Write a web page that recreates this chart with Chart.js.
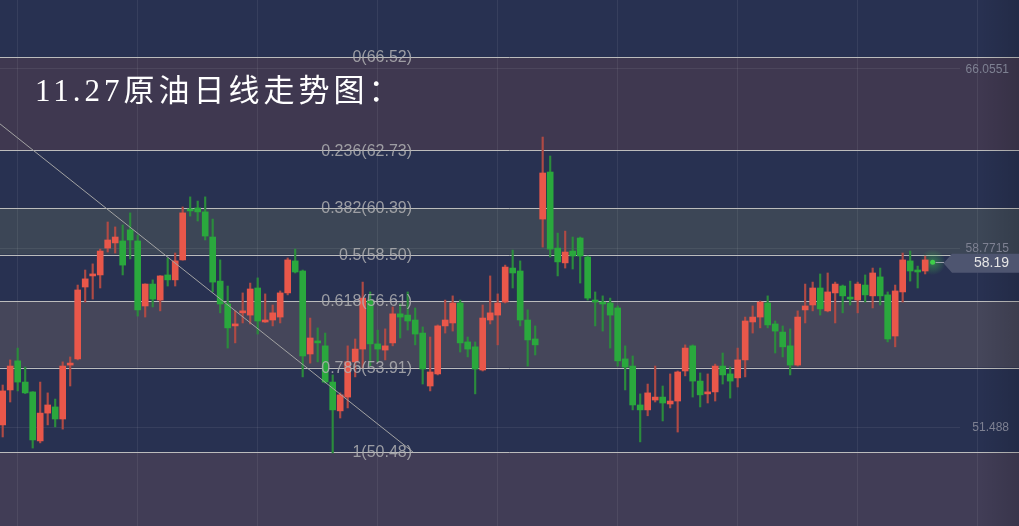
<!DOCTYPE html>
<html>
<head>
<meta charset="utf-8">
<script src="https://cdn.jsdelivr.net/npm/chart.js@4/dist/chart.umd.min.js"></script>
<style>
html,body{margin:0;padding:0;background:#283151;overflow:hidden;width:1019px;height:526px}
canvas{display:block}
</style>
</head>
<body>
<canvas id="c" width="1019" height="526"></canvas>
<script>
// ---------- DATA ----------
const titleText = '11.27原油日线走势图：';

const opens = [51.58,53.00,54.18,53.32,52.92,50.93,52.06,52.31,51.82,54.01,54.26,57.18,57.63,57.67,58.76,58.97,59.05,59.50,59.05,56.41,
57.30,56.65,57.67,57.47,58.28,60.35,60.39,60.23,59.21,57.42,56.49,55.60,56.13,56.04,57.14,55.76,55.84,55.96,56.94,58.24,
57.83,54.46,54.95,54.79,53.32,52.15,52.71,54.14,54.66,56.65,54.87,54.62,54.91,56.09,56.04,55.84,55.31,53.16,53.65,55.60,
55.72,56.53,54.95,54.75,53.81,55.84,56.04,56.57,57.95,57.83,55.84,55.07,59.94,61.85,58.76,58.16,58.64,59.17,58.40,56.65,
56.57,56.53,56.33,54.26,53.97,52.39,52.19,52.59,52.71,52.43,52.55,53.77,54.79,53.36,52.84,52.92,53.97,53.65,53.49,54.22,
55.76,55.96,56.53,55.68,55.35,54.79,54.01,56.25,56.45,57.14,56.21,56.94,57.22,56.77,56.65,57.26,56.82,57.59,56.86,55.19,
56.98,58.24,57.87,57.83];
const highs = [53.20,54.22,54.70,53.93,52.93,53.32,52.88,52.63,54.14,54.34,57.26,57.87,58.12,58.72,59.82,59.62,59.70,60.19,59.29,57.31,
57.47,57.64,58.36,58.56,60.43,60.84,60.67,60.84,59.94,58.28,57.22,56.21,56.94,57.34,57.55,56.90,56.45,57.02,58.36,58.72,
57.87,55.92,55.52,55.31,53.61,52.88,54.79,55.07,57.38,56.98,55.43,55.48,56.37,56.49,56.98,56.33,55.56,55.15,55.64,56.65,
56.82,56.65,55.15,54.95,56.45,57.63,56.90,58.07,58.68,58.24,56.25,55.60,63.27,62.50,59.37,59.45,59.21,59.21,58.44,56.98,
56.82,56.73,56.41,54.79,54.38,52.84,53.24,53.97,53.16,53.65,53.77,54.83,54.83,53.69,53.65,54.05,54.50,53.93,54.70,55.96,
56.41,56.61,56.82,55.80,55.60,55.48,56.21,57.30,57.38,57.71,57.75,57.38,57.26,57.42,57.38,57.67,57.95,57.95,56.98,57.26,
58.56,58.64,58.03,58.44];
const lows = [51.09,52.51,52.96,52.85,50.64,50.85,51.58,51.50,51.41,53.16,54.22,56.57,56.69,57.14,58.60,58.56,57.67,58.32,56.00,55.96,
56.37,56.21,57.22,57.22,58.27,60.06,59.86,59.09,56.98,56.13,54.70,54.91,55.72,55.68,55.27,55.74,55.60,55.72,56.86,57.75,
53.53,54.09,54.14,53.28,50.44,51.86,52.27,53.53,53.89,53.97,54.14,54.22,54.79,55.11,55.43,54.83,53.24,52.96,53.61,55.31,
55.39,54.54,54.34,52.84,53.77,55.68,54.83,56.53,57.14,55.60,53.97,54.42,58.80,58.40,57.63,57.95,57.91,57.34,56.65,55.60,
55.39,54.70,53.97,53.00,52.19,50.89,51.95,52.51,51.74,52.27,51.29,53.57,52.71,52.31,52.47,52.55,53.24,52.67,53.12,53.53,
55.31,55.52,55.52,54.50,54.34,53.61,53.97,55.72,56.21,56.04,56.17,55.72,56.13,56.45,56.13,56.57,56.33,56.45,54.95,54.75,
56.57,57.42,57.14,57.71];
const closes = [52.96,53.97,53.32,52.88,50.97,52.06,52.39,51.82,53.97,54.09,57.06,57.51,57.67,58.64,59.09,59.21,58.07,59.09,56.25,57.30,
56.69,57.63,57.47,58.24,60.19,60.27,60.23,59.25,57.38,56.49,55.52,55.68,56.17,57.10,55.80,55.84,56.13,56.94,58.28,57.79,
54.38,55.11,54.91,53.32,52.19,52.80,54.14,54.66,56.73,54.87,54.66,54.79,56.09,55.96,55.80,55.27,53.85,53.73,55.60,55.84,
56.53,54.91,54.66,53.85,55.92,56.13,56.53,57.99,57.75,55.84,55.03,54.83,61.81,58.72,58.20,58.60,58.44,58.44,56.73,56.57,
56.49,56.04,54.18,53.93,52.39,52.19,52.88,52.71,52.47,52.55,53.73,54.70,53.36,52.80,52.88,53.97,53.61,53.36,54.22,55.80,
55.96,56.57,55.64,55.39,54.75,54.01,55.96,56.41,57.14,56.29,56.98,57.30,56.82,56.69,57.30,56.86,57.75,56.82,55.07,57.02,
58.28,57.83,57.79,58.28];
const lastIndex = 124;
const lastPrice = 58.19;

const fibRatios = ['0','0.236','0.382','0.5','0.618','0.786','1'];
const fibPrices = [66.52,62.73,60.39,58.50,56.61,53.91,50.48];
const axisTicks = [66.0551,58.7715,51.488];
const gridDays = [1.95,17.95,33.95,49.95,65.95,81.95,97.95,113.95,129.95];
const trendPoints = [{x:-2, y:64.20},{x:54.7, y:50.48}];

// ---------- STYLE ----------
const C = {
  navy:'#283151', bandTop:'#3f3850', bandMid:'#3c4656', bandLow:'#45465a', bandBottom:'#413d56',
  up:'#e9574a', down:'#2aa83d', upWick:'#b04a44', downWick:'#2b8c3c',
  fibLine:'#bcbcbc', fibText:'rgba(175,175,178,0.85)', grid:'rgba(255,255,255,0.07)',
  axisText:'#7e8192', tag:'#4e5570', tagText:'#e6e6e6', trend:'#a3a3a3'
};

const isUp = opens.map((o,i)=>closes[i] >= o);

const decor = {
  id:'decor',
  beforeDatasetsDraw(chart){
    const {ctx, width:W, height:H, scales:{x,y}} = chart;
    ctx.save();
    ctx.fillStyle = C.navy; ctx.fillRect(0,0,W,H);
    const py = fibPrices.map(p=>y.getPixelForValue(p));
    ctx.fillStyle = C.bandTop;    ctx.fillRect(0,py[0],W,py[1]-py[0]);
    ctx.fillStyle = C.bandMid;    ctx.fillRect(0,py[2],W,py[3]-py[2]);
    ctx.fillStyle = C.bandLow;    ctx.fillRect(0,py[4],W,py[5]-py[4]);
    ctx.fillStyle = C.bandBottom; ctx.fillRect(0,py[6],W,H-py[6]);
    // grid
    ctx.strokeStyle = C.grid; ctx.lineWidth = 1;
    gridDays.forEach(d=>{
      const px = Math.round(x.getPixelForValue(d))+0.5;
      ctx.beginPath(); ctx.moveTo(px,0); ctx.lineTo(px,H); ctx.stroke();
    });
    axisTicks.forEach(v=>{
      const yy = Math.round(y.getPixelForValue(v))+0.5;
      ctx.beginPath(); ctx.moveTo(0,yy); ctx.lineTo(960,yy); ctx.stroke();
    });
    // fib lines
    ctx.strokeStyle = C.fibLine; ctx.lineWidth = 1;
    py.forEach(p=>{
      const yy = Math.round(p)+0.5;
      ctx.beginPath(); ctx.moveTo(0,yy); ctx.lineTo(W,yy); ctx.stroke();
    });
    // glow for current price
    const gx = x.getPixelForValue(lastIndex), gy = y.getPixelForValue(lastPrice);
    const g = ctx.createRadialGradient(gx,gy,0,gx,gy,13);
    g.addColorStop(0,'rgba(70,210,80,0.45)'); g.addColorStop(1,'rgba(70,210,80,0)');
    ctx.fillStyle = g; ctx.beginPath(); ctx.arc(gx,gy,13,0,Math.PI*2); ctx.fill();
    ctx.restore();
  },
  afterDatasetsDraw(chart){
    const {ctx, width:W, height:H, scales:{x,y}} = chart;
    ctx.save();
    // fib labels
    ctx.font = '16px "Liberation Sans", Arial, sans-serif';
    ctx.fillStyle = C.fibText; ctx.textAlign = 'right'; ctx.textBaseline = 'middle';
    fibPrices.forEach((p,i)=>{
      ctx.fillText(fibRatios[i]+'('+p.toFixed(2)+')', 412, y.getPixelForValue(p)+1);
    });
    // right shade
    const sh = ctx.createLinearGradient(980,0,W,0);
    sh.addColorStop(0,'rgba(0,0,0,0)'); sh.addColorStop(1,'rgba(0,0,0,0.13)');
    ctx.fillStyle = sh; ctx.fillRect(980,0,W-980,H);
    // right axis labels
    ctx.font = '12px "Liberation Sans", Arial, sans-serif';
    ctx.fillStyle = C.axisText; ctx.textAlign = 'right';
    axisTicks.forEach(v=>{ ctx.fillText(String(v), 1009, y.getPixelForValue(v)+1); });
    // price tag
    const ty = y.getPixelForValue(lastPrice)+1;
    const dx = x.getPixelForValue(lastIndex);
    ctx.strokeStyle = '#9aa0aa'; ctx.lineWidth = 1;
    ctx.beginPath(); ctx.moveTo(dx+3,Math.round(ty)-0.5); ctx.lineTo(944,Math.round(ty)-0.5); ctx.stroke();
    ctx.fillStyle = C.tag;
    ctx.beginPath();
    ctx.moveTo(943.5,ty); ctx.lineTo(952,ty-9.5); ctx.lineTo(W,ty-9.5); ctx.lineTo(W,ty+9.5); ctx.lineTo(952,ty+9.5); ctx.closePath();
    ctx.fill();
    ctx.font = '14px "Liberation Sans", Arial, sans-serif';
    ctx.fillStyle = C.tagText; ctx.textAlign = 'right';
    ctx.fillText(lastPrice.toFixed(2), 1009, ty+0.5);
    // title
    ctx.font = '31px "Liberation Serif", "Noto Sans CJK SC", serif';
    ctx.letterSpacing = '4px';
    ctx.fillStyle = '#ffffff'; ctx.textAlign = 'left'; ctx.textBaseline = 'middle';
    ctx.fillText(titleText, 35, 93);
    ctx.restore();
  }
};

new Chart(document.getElementById('c'), {
  type:'bar',
  data:{
    datasets:[
      { type:'line', label:'trend', data:trendPoints, borderColor:C.trend, borderWidth:1, pointRadius:0, fill:false, tension:0 },
      { type:'line', label:'last', data:[{x:lastIndex, y:lastPrice}], showLine:false, pointRadius:2.5, pointBackgroundColor:'#3ecf49', pointBorderWidth:0 },
      { label:'body', data:opens.map((o,i)=>({x:i, y:[o, closes[i]]})), backgroundColor:isUp.map(u=>u?C.up:C.down),
        barThickness:6, grouped:false, minBarLength:2, borderWidth:0 },
      { label:'wick', data:lows.map((l,i)=>({x:i, y:[l, highs[i]]})), backgroundColor:isUp.map(u=>u?C.upWick:C.downWick),
        barThickness:1.5, grouped:false, borderWidth:0 }
    ]
  },
  options:{
    responsive:false, animation:false, events:[],
    layout:{padding:0, autoPadding:false},
    scales:{
      x:{type:'linear', min:-0.36, max:135.51, display:false, offset:false, grid:{offset:false}},
      y:{type:'linear', min:47.475, max:68.835, display:false, offset:false}
    },
    plugins:{legend:{display:false}, tooltip:{enabled:false}, title:{display:false}}
  },
  plugins:[decor]
});
</script>
</body>
</html>
